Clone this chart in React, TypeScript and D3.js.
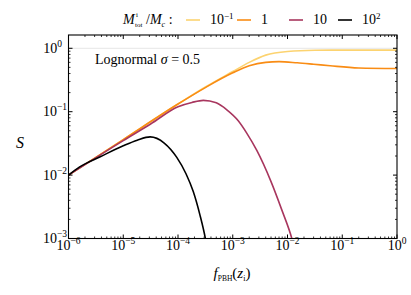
import React from "react";
import * as d3 from "d3";

// S(f_PBH) for a lognormal mass function, sigma = 0.5, one curve per M_tot/M_c
const massRatios = ["1e-1", "1", "10", "1e2"];
const seriesColors = ["#fcd370", "#f98c14", "#a8365e", "#000000"];

const curveLow: [number, number][] = [
  [1e-6, 0.01], [1e-5, 0.0363], [1e-4, 0.132], [3.16e-4, 0.245], [1e-3, 0.43],
  [2e-3, 0.6], [4e-3, 0.78], [1e-2, 0.89], [3.16e-2, 0.93], [0.1, 0.935], [1, 0.935],
];
const curveOne: [number, number][] = [
  [1e-6, 0.01], [1e-5, 0.0363], [1e-4, 0.132], [3.16e-4, 0.24], [1e-3, 0.41],
  [2e-3, 0.53], [4e-3, 0.6], [7e-3, 0.615], [1.5e-2, 0.59], [3e-2, 0.56],
  [6e-2, 0.53], [0.2, 0.49], [1, 0.48],
];
const curveTen: [number, number][] = [
  [1e-6, 0.01], [1e-5, 0.035], [3.16e-5, 0.064], [1e-4, 0.12], [1.8e-4, 0.14],
  [2.9e-4, 0.151], [5e-4, 0.138], [7.8e-4, 0.107], [1.26e-3, 0.072], [1.8e-3, 0.046],
  [2.75e-3, 0.0245], [5e-3, 0.0079], [7.9e-3, 0.0028], [1.2e-2, 0.001], [1.4e-2, 0.0006],
];
const curveHundred: [number, number][] = [
  [1e-6, 0.01], [1.6e-6, 0.0135], [3.8e-6, 0.0195], [1e-5, 0.029], [1.8e-5, 0.0355],
  [3.1e-5, 0.04], [5.6e-5, 0.032], [9.5e-5, 0.019], [1.4e-4, 0.0105], [1.9e-4, 0.0055],
  [2.5e-4, 0.0024], [3.16e-4, 0.001], [3.5e-4, 0.0006],
];
const allCurves = [curveLow, curveOne, curveTen, curveHundred];

const xTickExps = [-6, -5, -4, -3, -2, -1, 0];
const yTickExps = [-3, -2, -1, 0];

const W = 411;
const H = 295;
const m = { left: 68.5, right: 397, top: 35, bottom: 238.5 };
const tf = { fontFamily: "'Liberation Serif'" };

export default function App() {
  const x = d3.scaleLog().domain([1e-6, 1]).range([m.left, m.right]);
  const y = d3.scaleLog().domain([1e-3, 1.62]).range([m.bottom, m.top]);

  const line = d3
    .line<[number, number]>()
    .x(d => x(d[0]))
    .y(d => y(d[1]))
    .curve(d3.curveMonotoneX);

  const minorX: number[] = [];
  for (let e = -6; e < 0; e++) for (let k = 2; k < 10; k++) minorX.push(k * Math.pow(10, e));
  const minorY: number[] = [];
  for (let e = -3; e <= 0; e++) for (let k = 2; k < 10; k++) {
    const v = k * Math.pow(10, e);
    if (v < 1.62) minorY.push(v);
  }

  const legendX = [186, 237, 289, 338];
  const legendLabels = [
    <tspan key="a">10<tspan dy={-5} fontSize={9}>−1</tspan></tspan>,
    <tspan key="b">1</tspan>,
    <tspan key="c">10</tspan>,
    <tspan key="d">10<tspan dy={-5} fontSize={9}>2</tspan></tspan>,
  ];

  return (
    <svg width={W} height={H} style={{ position: "absolute", left: 0, top: 0 }}>
      <defs>
        <clipPath id="plotClip">
          <rect x={m.left} y={m.top} width={m.right - m.left} height={m.bottom - m.top} />
        </clipPath>
      </defs>
      <rect width={W} height={H} fill="#fff" />

      {/* faint reference line at S = 1 */}
      <line x1={m.left} x2={m.right} y1={y(1)} y2={y(1)} stroke="#e6e6e6" strokeWidth={1} />

      <g clipPath="url(#plotClip)">
        {allCurves.map((c, i) => (
          <path key={massRatios[i]} d={line(c) || ""} fill="none" stroke={seriesColors[i]} strokeWidth={1.6} />
        ))}
      </g>

      {/* frame */}
      <rect x={m.left} y={m.top} width={m.right - m.left} height={m.bottom - m.top} fill="none" stroke="#000" strokeWidth={1.1} />

      {/* x ticks */}
      {xTickExps.map(e => {
        const px = x(Math.pow(10, e));
        return (
          <g key={"xt" + e}>
            <line x1={px} x2={px} y1={m.bottom} y2={m.bottom - 4} stroke="#000" />
            <line x1={px} x2={px} y1={m.top} y2={m.top + 4} stroke="#000" />
            <text x={px} y={250} fontSize={14} textAnchor="middle" style={tf}>
              10<tspan dy={-6} fontSize={9.5}>{e === 0 ? "0" : "−" + -e}</tspan>
            </text>
          </g>
        );
      })}
      {minorX.map((v, i) => (
        <g key={"xm" + i}>
          <line x1={x(v)} x2={x(v)} y1={m.bottom} y2={m.bottom - 2} stroke="#000" strokeWidth={0.8} />
          <line x1={x(v)} x2={x(v)} y1={m.top} y2={m.top + 2} stroke="#000" strokeWidth={0.8} />
        </g>
      ))}

      {/* y ticks */}
      {yTickExps.map(e => {
        const py = y(Math.pow(10, e));
        return (
          <g key={"yt" + e}>
            <line x1={m.left} x2={m.left + 4} y1={py} y2={py} stroke="#000" />
            <line x1={m.right} x2={m.right - 4} y1={py} y2={py} stroke="#000" />
            <text x={e === 0 ? 62 : 67} y={py + 4.5} fontSize={14} textAnchor="end" style={tf}>
              10<tspan dy={-6} fontSize={9.5}>{e === 0 ? "0" : "−" + -e}</tspan>
            </text>
          </g>
        );
      })}
      {minorY.map((v, i) => (
        <g key={"ym" + i}>
          <line x1={m.left} x2={m.left + 2} y1={y(v)} y2={y(v)} stroke="#000" strokeWidth={0.8} />
          <line x1={m.right} x2={m.right - 2} y1={y(v)} y2={y(v)} stroke="#000" strokeWidth={0.8} />
        </g>
      ))}

      {/* axis labels */}
      <text x={20} y={148} fontSize={16} fontStyle="italic" textAnchor="middle" style={tf}>S</text>
      <text x={232} y={278} fontSize={15} textAnchor="middle" style={tf}>
        <tspan fontStyle="italic">f</tspan>
        <tspan dy={3} fontSize={7.5}>PBH</tspan>
        <tspan dy={-3}>(</tspan>
        <tspan fontStyle="italic">z</tspan>
        <tspan dy={3} fontSize={8}>i</tspan>
        <tspan dy={-3}>)</tspan>
      </text>

      {/* annotation */}
      <text x={95} y={64} fontSize={14} style={tf}>
        Lognormal <tspan fontStyle="italic">σ</tspan> = 0.5
      </text>

      {/* legend title */}
      <text x={123} y={24} fontSize={14} fontStyle="italic" style={tf}>M</text>
      <text x={136} y={17} fontSize={7} style={tf}>i</text>
      <text x={135} y={27} fontSize={7} style={tf}>tot</text>
      <text x={146} y={24} fontSize={14} style={tf}>
        /<tspan fontStyle="italic">M</tspan>
        <tspan dy={3} fontSize={8} fontStyle="italic">c</tspan>
        <tspan dy={-3}> :</tspan>
      </text>
      {legendX.map((lx, i) => (
        <g key={"lg" + i}>
          <line x1={lx} x2={lx + 14} y1={20} y2={20} stroke={seriesColors[i]} strokeWidth={1.6} />
          <text x={lx + 24} y={24} fontSize={14} style={tf}>{legendLabels[i]}</text>
        </g>
      ))}
    </svg>
  );
}
